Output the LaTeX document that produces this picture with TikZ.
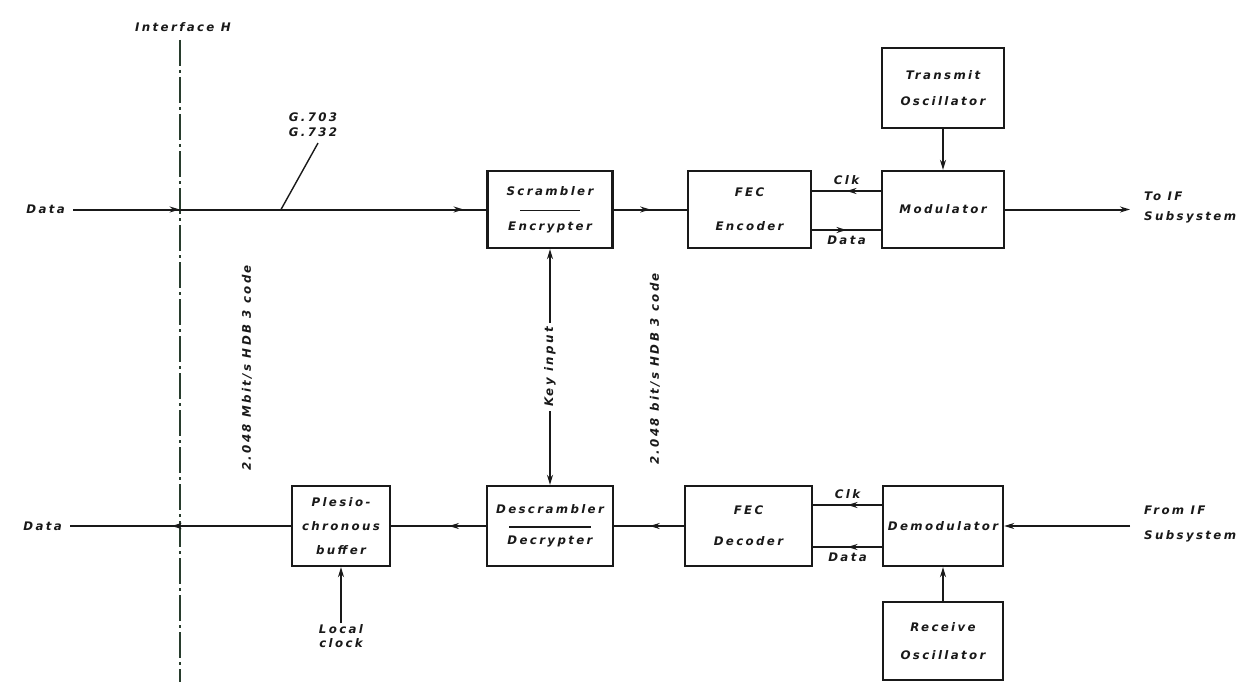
\documentclass[tikz,border=0pt]{standalone}
\usepackage{fontspec}
\setmainfont{DejaVu Sans}[LetterSpace=20]
\usetikzlibrary{arrows.meta,decorations.markings}
\definecolor{ink}{RGB}{25,25,25}
\definecolor{ifgreen}{RGB}{40,60,45}
\tikzset{
  every node/.style={font=\bfseries\itshape\fontsize{11.8}{13.8}\selectfont, text=ink},
  box/.style={draw=ink, line width=2.3pt, inner sep=0pt, align=center},
  wire/.style={draw=ink, line width=2pt},
  lbl/.style={align=center, inner sep=1pt},
  endarr/.style={-{Stealth[length=10pt,width=6pt]}},
  midarr/.style={postaction={decorate,decoration={markings,mark=at position #1 with {\arrow{Stealth[length=10pt,width=6pt]}}}}},
  iface/.style={draw=ifgreen, line width=2.2pt, dash pattern=on 26pt off 4pt on 3pt off 4pt},
}
\begin{document}
\begin{tikzpicture}[x=1pt,y=-1pt]
\useasboundingbox (0,0) rectangle (1255,682);
\fill[white] (0,0) rectangle (1255,682);

% ---- boxes ----
\node[box, minimum width=125pt, minimum height=77pt] (scr) at (550,209.5) {Scrambler\\[21pt]Encrypter};
\node[box, minimum width=123pt, minimum height=77pt] (fecE) at (749.5,209.5) {FEC\\[20pt]Encoder};
\node[box, minimum width=122pt, minimum height=77pt] (mod) at (943,209.5) {Modulator};
\node[box, minimum width=122pt, minimum height=80pt] (tosc) at (943,88) {Transmit\\[12pt]Oscillator};
\node[box, minimum width=98pt, minimum height=80pt] (buf) at (341,526) {Plesio-\\[10pt]chronous\\[10pt]buffer};
\node[box, minimum width=126pt, minimum height=80pt] (dscr) at (550,526) {Descrambler\\[17pt]Decrypter};
\node[box, minimum width=127pt, minimum height=80pt] (fecD) at (748.5,526) {FEC\\[17pt]Decoder};
\node[box, minimum width=120pt, minimum height=80pt] (dmod) at (943,526) {Demodulator};
\node[box, minimum width=120pt, minimum height=78pt] (rosc) at (943,641) {Receive\\[15pt]Oscillator};

% divider lines in scrambler / descrambler
\draw[ink, line width=1.6pt] ([xshift=-30pt,yshift=-1pt]scr.center) -- ([xshift=30pt,yshift=-1pt]scr.center);
\draw[ink, line width=1.6pt] ([xshift=-41pt,yshift=-1pt]dscr.center) -- ([xshift=41pt,yshift=-1pt]dscr.center);

% ---- labels ----
\node[lbl] (ifh) at (183,27) {Interface H};
\coordinate (ifbot) at (180,682);
\coordinate (iftop) at (180,40);
\draw[iface] (iftop) -- (ifbot);

\node[lbl, anchor=east, inner xsep=8pt] (din) at (73,209.5) {Data};
\node[lbl, anchor=east, inner xsep=8pt] (dout) at (70,526) {Data};
\node[lbl, anchor=west, align=left, inner xsep=14pt] (toif) at (1130,207.5) {To IF\\[7pt]Subsystem};
\node[lbl, anchor=west, align=left, inner xsep=14pt] (fromif) at (1130,524) {From IF\\[11pt]Subsystem};
\node[lbl] (g) at (313,125) {G.703\\[1pt]G.732};
\node[lbl, rotate=90] (rate1) at (247,368) {2.048 Mbit/s HDB 3 code};
\node[lbl, rotate=90] (rate2) at (655,369) {2.048 bit/s HDB 3 code};
\node[lbl] (lclk) at (341,636) {Local\\[0pt]clock};

% ---- transmit path ----
\draw[wire, midarr=0.258, midarr=0.945] (din.east) -- (scr.west);
\coordinate (gp) at (281,209.5);
\draw[ink, line width=1.4pt] (gp) -- ([xshift=5pt,yshift=-5pt]g.south);
\draw[wire, midarr=0.5] (scr.east) -- (fecE.west);
\coordinate (c1) at ([yshift=18.5pt]fecE.east);
\coordinate (d1) at ([yshift=-20.5pt]fecE.east);
\draw[wire, midarr=0.5] (c1 -| mod.west) -- node[lbl, above=4pt] {Clk} (c1);
\draw[wire, midarr=0.5] (d1) -- node[lbl, below=4pt] {Data} (d1 -| mod.west);
\draw[wire, endarr] (tosc.south) -- (mod.north);
\draw[wire, endarr] (mod.east) -- (mod.east -| toif.west);

% ---- key input ----
\draw[wire, {Stealth[length=10pt,width=6pt]}-{Stealth[length=10pt,width=6pt]}] (scr.south) -- node[lbl, fill=white, rotate=90, inner sep=4pt] {Key input} (dscr.north);

% ---- receive path ----
\draw[wire, endarr] (fromif.west |- dmod.east) -- (dmod.east);
\draw[wire, endarr] (rosc.north) -- (dmod.south);
\coordinate (c2) at ([yshift=21pt]fecD.east);
\coordinate (d2) at ([yshift=-21pt]fecD.east);
\draw[wire, midarr=0.5] (c2 -| dmod.west) -- node[lbl, above=4pt] {Clk} (c2);
\draw[wire, midarr=0.5] (d2 -| dmod.west) -- node[lbl, below=4pt] {Data} (d2);
\draw[wire, midarr=0.49] (fecD.west) -- (dscr.east);
\draw[wire, midarr=0.39] (dscr.west) -- (buf.east);
\draw[wire, midarr=0.54] (buf.west) -- (dout.east);
\draw[wire, endarr] (lclk.north) -- (buf.south);
\end{tikzpicture}
\end{document}
